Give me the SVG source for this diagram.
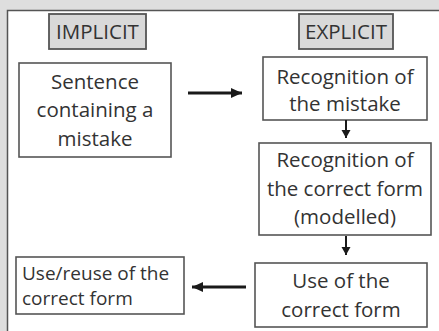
<svg xmlns="http://www.w3.org/2000/svg" width="439" height="331" viewBox="0 0 439 331">
  <style>
    .box { fill: #ffffff; stroke: #555555; stroke-width: 1.6; }
    .tag { fill: #d9d9d9; stroke: #555555; stroke-width: 1.8; }
    .t { font-family: "Open Sans", "Liberation Sans", Arial, sans-serif; fill: #333333; font-size: 20.5px; text-anchor: middle; }
    .tl { font-family: "Open Sans", "Liberation Sans", Arial, sans-serif; fill: #333333; font-size: 19px; }
    .tagt { font-family: "Open Sans", "Liberation Sans", Arial, sans-serif; fill: #333333; font-size: 20.5px; text-anchor: middle; }
    .wide { stroke: #1a1a1a; stroke-width: 3; fill: none; }
    .thin { stroke: #1a1a1a; stroke-width: 2; fill: none; }
  </style>
  <defs>
    <marker id="headWide" markerUnits="userSpaceOnUse" markerWidth="12" markerHeight="12" viewBox="0 0 12 12" refX="11" refY="6" orient="auto">
      <path d="M0,1 L11,6 L0,11 Z" fill="#1a1a1a"/>
    </marker>
    <marker id="headThin" markerUnits="userSpaceOnUse" markerWidth="10" markerHeight="10" viewBox="0 0 10 10" refX="8" refY="5" orient="auto">
      <path d="M0,0.5 L8,5 L0,9.5 Z" fill="#1a1a1a"/>
    </marker>
  </defs>

  <!-- page background and framed panel -->
  <rect x="0" y="0" width="439" height="331" fill="#dedede"/>
  <rect x="7" y="10" width="432" height="321" fill="#ffffff"/>
  <path d="M7.5,331 V10.5 H439" fill="none" stroke="#555555" stroke-width="1.5"/>

  <g id="implicit-label">
    <rect class="tag" x="49" y="14" width="97" height="35"/>
    <text class="tagt" x="97.5" y="39">IMPLICIT</text>
  </g>

  <g id="explicit-label">
    <rect class="tag" x="299" y="14" width="94" height="35"/>
    <text class="tagt" x="346" y="39">EXPLICIT</text>
  </g>

  <g id="sentence">
    <rect class="box" x="19" y="63" width="152" height="94"/>
    <text class="t" x="95" y="89">Sentence</text>
    <text class="t" x="95" y="117">containing a</text>
    <text class="t" x="95" y="146">mistake</text>
  </g>

  <g id="recognition-mistake">
    <rect class="box" x="263" y="57" width="164" height="63"/>
    <text class="t" x="345" y="84">Recognition of</text>
    <text class="t" x="345" y="111">the mistake</text>
  </g>

  <g id="recognition-form">
    <rect class="box" x="259" y="143" width="172" height="92"/>
    <text class="t" x="345" y="167">Recognition of</text>
    <text class="t" x="345" y="196">the correct form</text>
    <text class="t" x="345" y="224">(modelled)</text>
  </g>

  <g id="use-form">
    <rect class="box" x="255" y="263" width="172" height="64"/>
    <text class="t" x="341" y="288">Use of the</text>
    <text class="t" x="341" y="317">correct form</text>
  </g>

  <g id="reuse-form">
    <rect class="box" x="16" y="257" width="168" height="57"/>
    <text class="tl" x="22" y="280">Use/reuse of the</text>
    <text class="tl" x="22" y="305">correct form</text>
  </g>

  <g id="connectors">
    <line class="wide" x1="188" y1="93" x2="242" y2="93" marker-end="url(#headWide)"/>
    <line class="thin" x1="346" y1="120" x2="346" y2="138" marker-end="url(#headThin)"/>
    <line class="thin" x1="346" y1="236" x2="346" y2="255" marker-end="url(#headThin)"/>
    <line class="wide" x1="246" y1="287" x2="192" y2="287" marker-end="url(#headWide)"/>
  </g>
</svg>
